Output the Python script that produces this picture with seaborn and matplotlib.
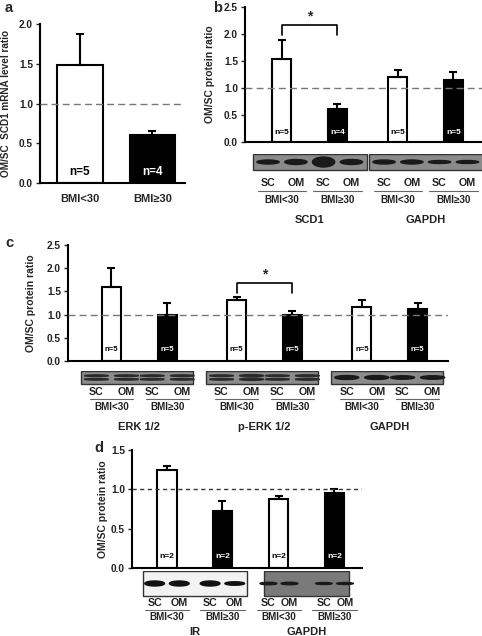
import numpy as np
import pandas as pd
import seaborn as sns
import matplotlib.pyplot as plt
from matplotlib.patches import Rectangle, Ellipse

# values
bmi = ['BMI<30', 'BMI\u226530']

a_ratio = [1.48, 0.61]
a_err = [0.40, 0.05]
a_n = [5, 4]

b_prot = ['SCD1', 'GAPDH']
b_ratio = [1.53, 0.62, 1.20, 1.15]
b_err = [0.35, 0.09, 0.13, 0.14]
b_n = [5, 4, 5, 5]

c_prot = ['ERK 1/2', 'p-ERK 1/2', 'GAPDH']
c_ratio = [1.59, 1.00, 1.31, 0.99, 1.17, 1.12]
c_err = [0.42, 0.24, 0.06, 0.09, 0.14, 0.13]
c_n = [5, 5, 5, 5, 5, 5]

d_prot = ['IR', 'GAPDH']
d_ratio = [1.25, 0.73, 0.88, 0.95]
d_err = [0.05, 0.12, 0.04, 0.05]
d_n = [2, 2, 2, 2]

# band thickness (px) per lane in the blot strips
b_bands = {'SCD1': [4, 5, 10, 5], 'GAPDH': [4, 4, 3, 3]}
c_bands = {'ERK 1/2': [1.6, 1.6, 1.6, 1.6], 'p-ERK 1/2': [1.6, 2.2, 1.6, 1.8], 'GAPDH': [4, 4, 3.5, 3.5]}
d_bands = {'IR': [5, 5, 5, 3.5], 'GAPDH': [2.5, 2.5, 2, 2]}

sns.set_style('white')
plt.rcParams['font.family'] = ['Liberation Sans', 'DejaVu Sans']
plt.rcParams['font.weight'] = 'bold'

W, H = 482, 636
fig = plt.figure(figsize=(W / 100, H / 100), dpi=100)
pal = {bmi[0]: 'white', bmi[1]: 'black'}


def px_axes(l, t, r, b):
    return fig.add_axes([l / W, 1 - b / H, (r - l) / W, (b - t) / H])


def style_axes(ax, ylim, step, lab_off, ylabel, tick_fs, dash, lab_fs=7.5):
    ax.set_ylim(*ylim)
    ax.set_yticks(np.arange(0, ylim[1] + 0.01, step))
    ax.set_yticklabels(['%.1f' % v for v in np.arange(0, ylim[1] + 0.01, step)],
                       fontsize=tick_fs, fontweight='bold', color='#222')
    ax.tick_params(axis='y', left=True, length=3, width=1, pad=2)
    ax.tick_params(axis='x', bottom=False, length=0)
    sns.despine(ax=ax)
    for s in ['left', 'bottom']:
        ax.spines[s].set_linewidth(1.5)
        ax.spines[s].set_color('black')
    ax.set_xlabel('')
    ax.set_ylabel(ylabel, fontsize=lab_fs, fontweight='bold')
    w_px = ax.get_position().width * W
    ax.yaxis.set_label_coords(-lab_off / w_px, 0.5)
    ax.axhline(1.0, color=dash[0], ls=(0, dash[1]), lw=1.0, zorder=5)


def finish_bars(ax, ratio, err, n, bw, n_y, n_fs):
    bars = sorted(ax.patches, key=lambda p: p.get_x())
    centers = []
    for p in bars:
        cx = p.get_x() + p.get_width() / 2
        if bw is not None:
            p.set_width(bw)
            p.set_x(cx - bw / 2)
        p.set_linewidth(1.5)
        centers.append(cx)
    ax.errorbar(centers, ratio, yerr=[np.zeros(len(err)), err], fmt='none',
                ecolor='black', elinewidth=1.5, capsize=3, capthick=1.5, zorder=4)
    for i, (cx, nn) in enumerate(zip(centers, n)):
        col = 'black' if i % 2 == 0 else 'white'
        ax.text(cx, n_y, 'n=%d' % nn, ha='center', va='center', fontsize=n_fs,
                fontweight='bold', color=col, zorder=6)
    return centers


def bracket(ax, x1, x2, foot, top, star_y):
    ax.plot([x1, x1, x2, x2], [foot, top, top, foot], color='black', lw=1.2,
            clip_on=False)
    ax.text((x1 + x2) / 2, star_y, '*', ha='center', va='center', fontsize=10,
            fontweight='bold', clip_on=False)


def blot_panel(ax_bar, box, prots, centers, bands, half, shift, lane_off, strip_h,
               rows, bg, band_col, fs, ul_half):
    lab = px_axes(*box)
    lab.set_xlim(ax_bar.get_xlim())
    lab.set_ylim(box[3] - box[1], 0)
    lab.axis('off')
    for g, prot in enumerate(prots):
        c1, c2 = centers[2 * g], centers[2 * g + 1]
        gc = (c1 + c2) / 2
        hw = half[g] if isinstance(half, list) else half
        lab.add_patch(Rectangle((gc + shift - hw, 0), 2 * hw, strip_h, facecolor=bg[g],
                                edgecolor='#333', lw=1.0))
        lanes = [c1 - lane_off[g], c1 + lane_off[g], c2 - lane_off[g], c2 + lane_off[g]]
        for lx, th in zip(lanes, bands[prot]):
            if prot.startswith('ERK') or prot.startswith('p-ERK'):
                for yy in (strip_h * 0.36, strip_h * 0.64):
                    lab.add_patch(Ellipse((lx, yy), 1.6 * lane_off[g], th,
                                          color=band_col[g]))
            else:
                lab.add_patch(Ellipse((lx, strip_h / 2), 1.6 * lane_off[g], th,
                                      color=band_col[g]))
        for k, lx in enumerate(lanes):
            lab.text(lx, rows[0], ['SC', 'OM'][k % 2], ha='center', va='center',
                     fontsize=fs, fontweight='bold', color='#222')
        for k, cx in enumerate([c1, c2]):
            lab.plot([cx - ul_half, cx + ul_half], [rows[1], rows[1]], color='#666', lw=0.8)
            lab.text(cx, rows[2], bmi[k], ha='center', va='center', fontsize=fs - 0.6,
                     fontweight='bold', color='#222')
        lab.text(gc, rows[3], prot, ha='center', va='center', fontsize=fs + 0.3,
                 fontweight='bold', color='#222')
    return lab


# ---- panel a ----
df_a = pd.DataFrame({'bmi': bmi, 'ratio': a_ratio})
ax_a = px_axes(40, 24, 185, 183)
sns.barplot(data=df_a, x='bmi', y='ratio', hue='bmi', palette=pal, edgecolor='black',
            width=0.63, errorbar=None, legend=False, ax=ax_a)
ax_a.set_xlim(-0.55, 1.45)
style_axes(ax_a, (0, 2.0), 0.5, 28.5, 'OM/SC  SCD1 mRNA level ratio', 7.3, ('#777', (5, 3)),
           lab_fs=7.2)
finish_bars(ax_a, a_ratio, a_err, a_n, None, 0.14, 8.5)
ax_a.set_xticks(range(2))
ax_a.set_xticklabels(bmi, fontsize=8, fontweight='bold')
ax_a.tick_params(axis='x', pad=8)

# ---- panel b ----
df_b = pd.DataFrame({'prot': np.repeat(b_prot, 2), 'bmi': bmi * 2, 'ratio': b_ratio})
ax_b = px_axes(245, 7, 482, 142)
sns.barplot(data=df_b, x='prot', y='ratio', hue='bmi', palette=pal, edgecolor='black',
            width=0.957, errorbar=None, legend=False, ax=ax_b)
ax_b.set_xlim(-0.558, 1.485)
style_axes(ax_b, (0, 2.5), 0.5, 30, 'OM/SC protein ratio', 7.3, ('#777', (5, 3)))
ax_b.set_xticks([])
cb = finish_bars(ax_b, b_ratio, b_err, b_n, 0.164, 0.18, 6)
bracket(ax_b, cb[0], cb[1], 1.98, 2.17, 2.32)
blot_panel(ax_b, (245, 154, 482, 228), b_prot, cb, b_bands, 0.49, 0.0, [0.12, 0.12], 16,
           [29, 37, 46, 66], ['#8a8a8a', '#8a8a8a'], ['#1a1a1a', '#1a1a1a'], 7.7, 0.21)

# ---- panel c ----
df_c = pd.DataFrame({'prot': np.repeat(c_prot, 2), 'bmi': bmi * 3, 'ratio': c_ratio})
ax_c = px_axes(68, 245, 448, 361)
sns.barplot(data=df_c, x='prot', y='ratio', hue='bmi', palette=pal, edgecolor='black',
            width=0.892, errorbar=None, legend=False, ax=ax_c)
ax_c.set_xlim(-0.570, 2.466)
style_axes(ax_c, (0, 2.5), 0.5, 32, 'OM/SC protein ratio', 7.3, ('#777', (5, 3)))
ax_c.set_xticks([])
cc = finish_bars(ax_c, c_ratio, c_err, c_n, 0.151, 0.24, 5.5)
bracket(ax_c, cc[2], cc[3], 1.46, 1.68, 1.86)
blot_panel(ax_c, (68, 371, 448, 432), c_prot, cc, c_bands, 0.45, -0.02,
           [0.12, 0.12, 0.12], 13, [21, 28, 36, 56], ['#8c8c8c', '#8c8c8c', '#8c8c8c'],
           ['#2a2a2a', '#2a2a2a', '#1a1a1a'], 7.7, 0.17)

# ---- panel d ----
df_d = pd.DataFrame({'prot': np.repeat(d_prot, 2), 'bmi': bmi * 2, 'ratio': d_ratio})
ax_d = px_axes(132, 450, 362, 568)
sns.barplot(data=df_d, x='prot', y='ratio', hue='bmi', palette=pal, edgecolor='black',
            width=0.99, errorbar=None, legend=False, ax=ax_d)
ax_d.set_xlim(-0.56, 1.494)
style_axes(ax_d, (0, 1.5), 0.5, 24, 'OM/SC protein ratio', 7.3, ('#333', (3, 2.5)))
ax_d.set_xticks([])
cd = finish_bars(ax_d, d_ratio, d_err, d_n, 0.17, 0.14, 6)
blot_panel(ax_d, (132, 571, 362, 636), d_prot, cd, d_bands, [0.465, 0.38], 0.0,
           [0.11, 0.094], 25, [32, 39, 46, 61], ['#f2f2f2', '#7a7a7a'],
           ['#111', '#1a1a1a'], 7.7, 0.2)

# panel letters
for letter, (x, y) in zip('abcd', [(5, 8), (213, 8), (5, 243), (94, 448)]):
    fig.text(x / W, 1 - y / H, letter, fontsize=10.5, fontweight='bold', va='center')

fig.savefig('out.png', dpi=100)
